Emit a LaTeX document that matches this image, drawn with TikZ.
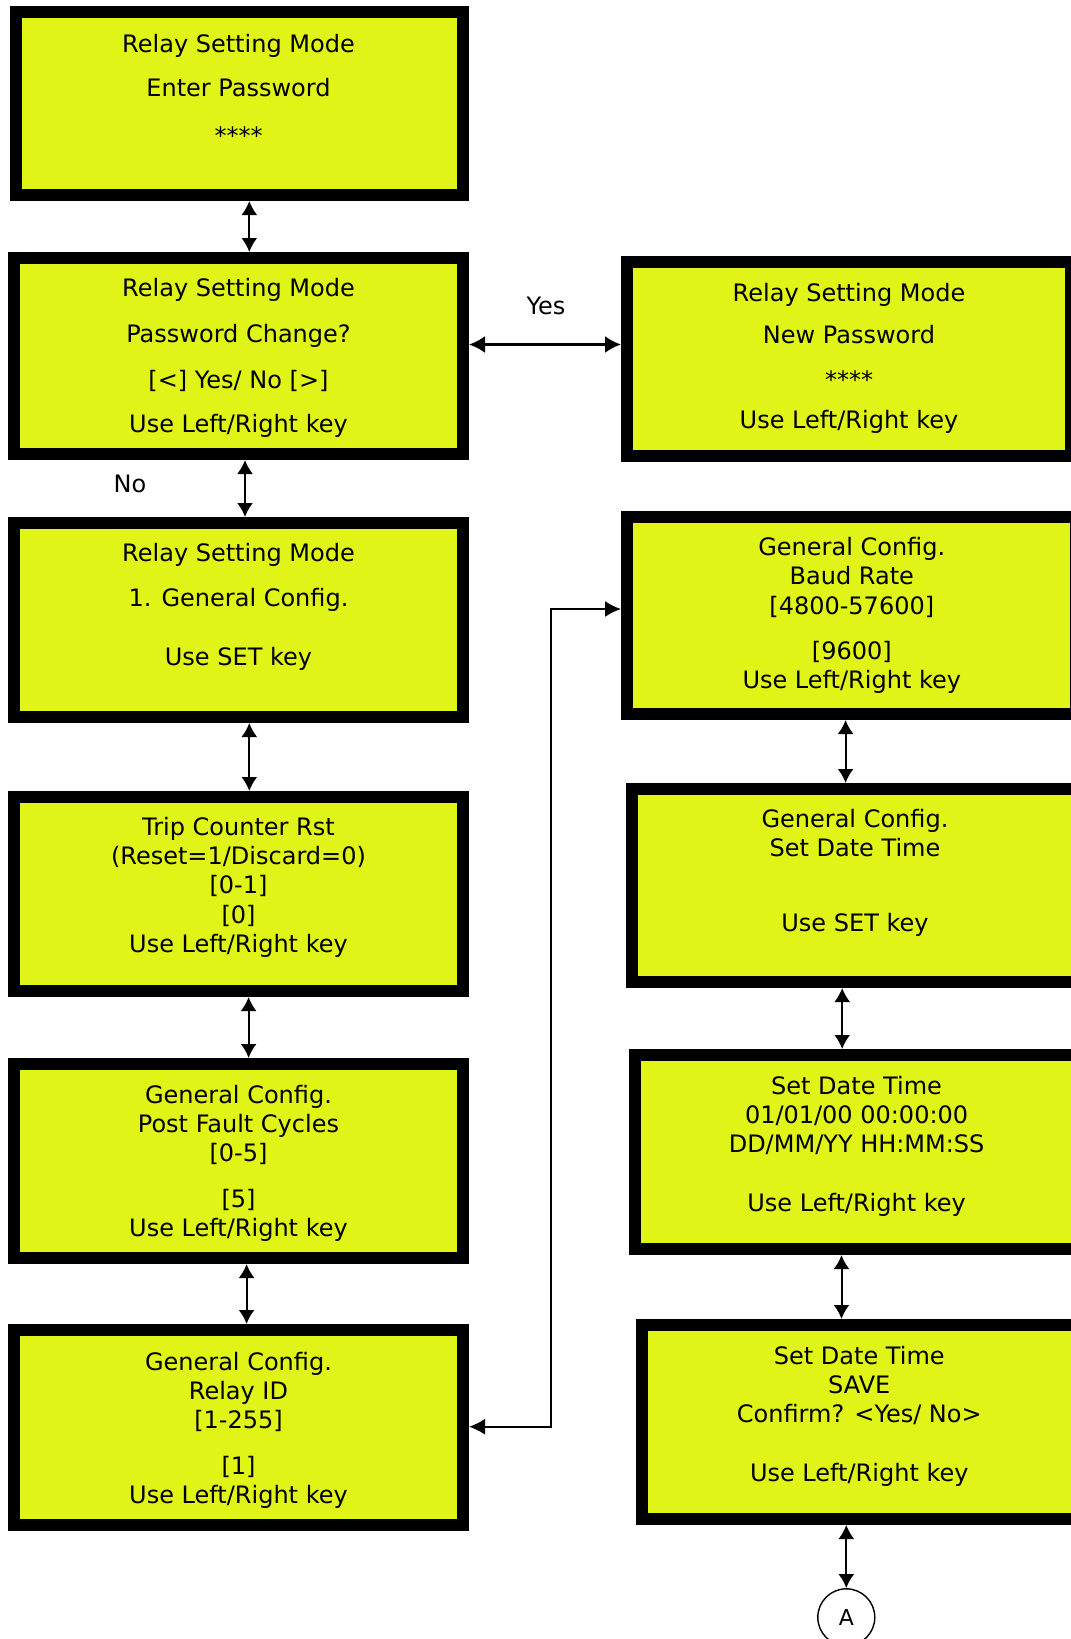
\documentclass[tikz,border=0pt]{standalone}
\usepackage{fontspec}
\setmainfont{DejaVu Sans}
\usetikzlibrary{arrows.meta}
\definecolor{lcdyellow}{RGB}{225,244,24}
\begin{document}
\begin{tikzpicture}[x=0.5pt,y=-0.5pt,
  lcd/.style={draw=black,line width=6pt,fill=lcdyellow,inner sep=0pt},
  txt/.style={anchor=mid,inner sep=0pt,yshift=-1.25pt,font=\fontsize{12pt}{14pt}\selectfont},
  dbl/.style={{Latex[length=7pt,width=8pt]}-{Latex[length=7pt,width=8pt]},line width=1pt},
  dblbig/.style={{Latex[length=8pt,width=8.5pt]}-{Latex[length=8pt,width=8.5pt]},line width=1.2pt},
  conn/.style={{Latex[length=8pt,width=8pt]}-{Latex[length=8pt,width=8pt]},line width=0.85pt},
  bubble/.style={circle,draw=black,line width=0.7pt,minimum size=28.5pt,inner sep=0pt,font=\fontsize{11pt}{13pt}\selectfont}]
\useasboundingbox (0,0) rectangle (1071,1639);

% boxes (left column)
\node[lcd,minimum width=223.5pt,minimum height=91.5pt] (B1) at (239.5,103.5) {};
\node[lcd,minimum width=224.5pt,minimum height=98pt] (B2) at (238.5,356) {};
\node[lcd,minimum width=224.5pt,minimum height=97pt] (B3) at (238.5,620) {};
\node[lcd,minimum width=224.5pt,minimum height=97pt] (B4) at (238.5,894) {};
\node[lcd,minimum width=224.5pt,minimum height=97pt] (B5) at (238.5,1161) {};
\node[lcd,minimum width=224.5pt,minimum height=97.5pt] (B6) at (238.5,1427.5) {};
% boxes (right column)
\node[lcd,minimum width=222pt,minimum height=97pt] (R1) at (849,359) {};
\node[lcd,minimum width=224.5pt,minimum height=98.5pt] (R2) at (851.5,615.5) {};
\node[lcd,minimum width=223pt,minimum height=96.5pt] (R3) at (855,885.5) {};
\node[lcd,minimum width=221.5pt,minimum height=97pt] (R4) at (856.5,1152) {};
\node[lcd,minimum width=217.5pt,minimum height=97pt] (R5) at (859.5,1422) {};
\node[bubble] (A) at (846.3,1617.3) {A};

% texts
\node[txt] (B1a) at (238.5,44.3) {Relay Setting Mode};
\node[txt] (B1b) at (238.5,89) {Enter Password};
\node[txt] (B1c) at (238.5,136.5) {****};

\node[txt] (B2a) at (238.5,288.7) {Relay Setting Mode};
\node[txt] (B2b) at (238.5,335) {Password Change?};
\node[txt] (B2c) at (238.5,380.7) {[<] Yes/ No [>]};
\node[txt] (B2d) at (238.5,425) {Use Left/Right key};

\node[txt] (B3a) at (238.5,554) {Relay Setting Mode};
\node[txt] (B3b) at (238.5,599) {1. General Config.};
\node[txt] (B3c) at (238.5,658) {Use SET key};

\node[txt] (B4a) at (238.5,828) {Trip Counter Rst};
\node[txt] (B4b) at (238.5,856.7) {(Reset=1/Discard=0)};
\node[txt] (B4c) at (238.5,886) {[0-1]};
\node[txt] (B4d) at (238.5,916) {[0]};
\node[txt] (B4e) at (238.5,945) {Use Left/Right key};

\node[txt] (B5a) at (238.5,1096) {General Config.};
\node[txt] (B5b) at (238.5,1125) {Post Fault Cycles};
\node[txt] (B5c) at (238.5,1154) {[0-5]};
\node[txt] (B5d) at (238.5,1200) {[5]};
\node[txt] (B5e) at (238.5,1228.3) {Use Left/Right key};

\node[txt] (B6a) at (238.5,1362.7) {General Config.};
\node[txt] (B6b) at (238.5,1391.7) {Relay ID};
\node[txt] (B6c) at (238.5,1420.7) {[1-255]};
\node[txt] (B6d) at (238.5,1466.7) {[1]};
\node[txt] (B6e) at (238.5,1495.7) {Use Left/Right key};

\node[txt] (R1a) at (849,293.3) {Relay Setting Mode};
\node[txt] (R1b) at (849,336) {New Password};
\node[txt] (R1c) at (849,380.5) {****};
\node[txt] (R1d) at (849,420.7) {Use Left/Right key};

\node[txt] (R2a) at (851.8,547.7) {General Config.};
\node[txt] (R2b) at (851.8,576.7) {Baud Rate};
\node[txt] (R2c) at (851.8,606.7) {[4800-57600]};
\node[txt] (R2d) at (851.8,651.7) {[9600]};
\node[txt] (R2e) at (851.8,681) {Use Left/Right key};

\node[txt] (R3a) at (855,820) {General Config.};
\node[txt] (R3b) at (855,848.3) {Set Date Time};
\node[txt] (R3c) at (855,923.3) {Use SET key};

\node[txt] (R4a) at (856.6,1086.7) {Set Date Time};
\node[txt] (R4b) at (856.6,1116) {01/01/00 00:00:00};
\node[txt] (R4c) at (856.6,1145) {DD/MM/YY HH:MM:SS};
\node[txt] (R4d) at (856.6,1204) {Use Left/Right key};

\node[txt] (R5a) at (859.3,1356.7) {Set Date Time};
\node[txt] (R5b) at (859.3,1385.7) {SAVE};
\node[txt] (R5c) at (859.3,1415) {Confirm? <Yes/ No>};
\node[txt] (R5d) at (859.3,1474) {Use Left/Right key};

\node[txt] (yes) at (546,307) {Yes};
\node[txt] (no) at (130,485) {No};

% guide coordinates
\coordinate (g12) at (249.3,0);
\coordinate (g23) at (245,0);
\coordinate (g34) at (249.3,0);
\coordinate (g45) at (248.6,0);
\coordinate (g56) at (246.6,0);
\coordinate (gyes) at (0,344.5);
\coordinate (gR2) at (0,609);
\coordinate (gB6) at (0,1426.7);
\coordinate (cTop) at (550.7,609);
\coordinate (cBot) at (550.7,1426.7);
\coordinate (h23) at (845.6,0);
\coordinate (h34) at (842.2,0);
\coordinate (h45) at (841.5,0);
\coordinate (h5A) at (846.3,0);

% connectors
\draw[dbl] (B1.south -| g12) -- (B2.north -| g12);
\draw[dblbig] (B2.east |- gyes) -- (R1.west |- gyes);
\draw[dbl] (B2.south -| g23) -- (B3.north -| g23);
\draw[dbl] (B3.south -| g34) -- (B4.north -| g34);
\draw[dbl] (B4.south -| g45) -- (B5.north -| g45);
\draw[dbl] (B5.south -| g56) -- (B6.north -| g56);
\draw[conn] (B6.east |- gB6) -- (cBot) -- (cTop) -- (R2.west |- gR2);
\draw[dbl] (R2.south -| h23) -- (R3.north -| h23);
\draw[dbl] (R3.south -| h34) -- (R4.north -| h34);
\draw[dbl] (R4.south -| h45) -- (R5.north -| h45);
\draw[dbl] (R5.south -| h5A) -- (A.north);
\end{tikzpicture}
\end{document}
